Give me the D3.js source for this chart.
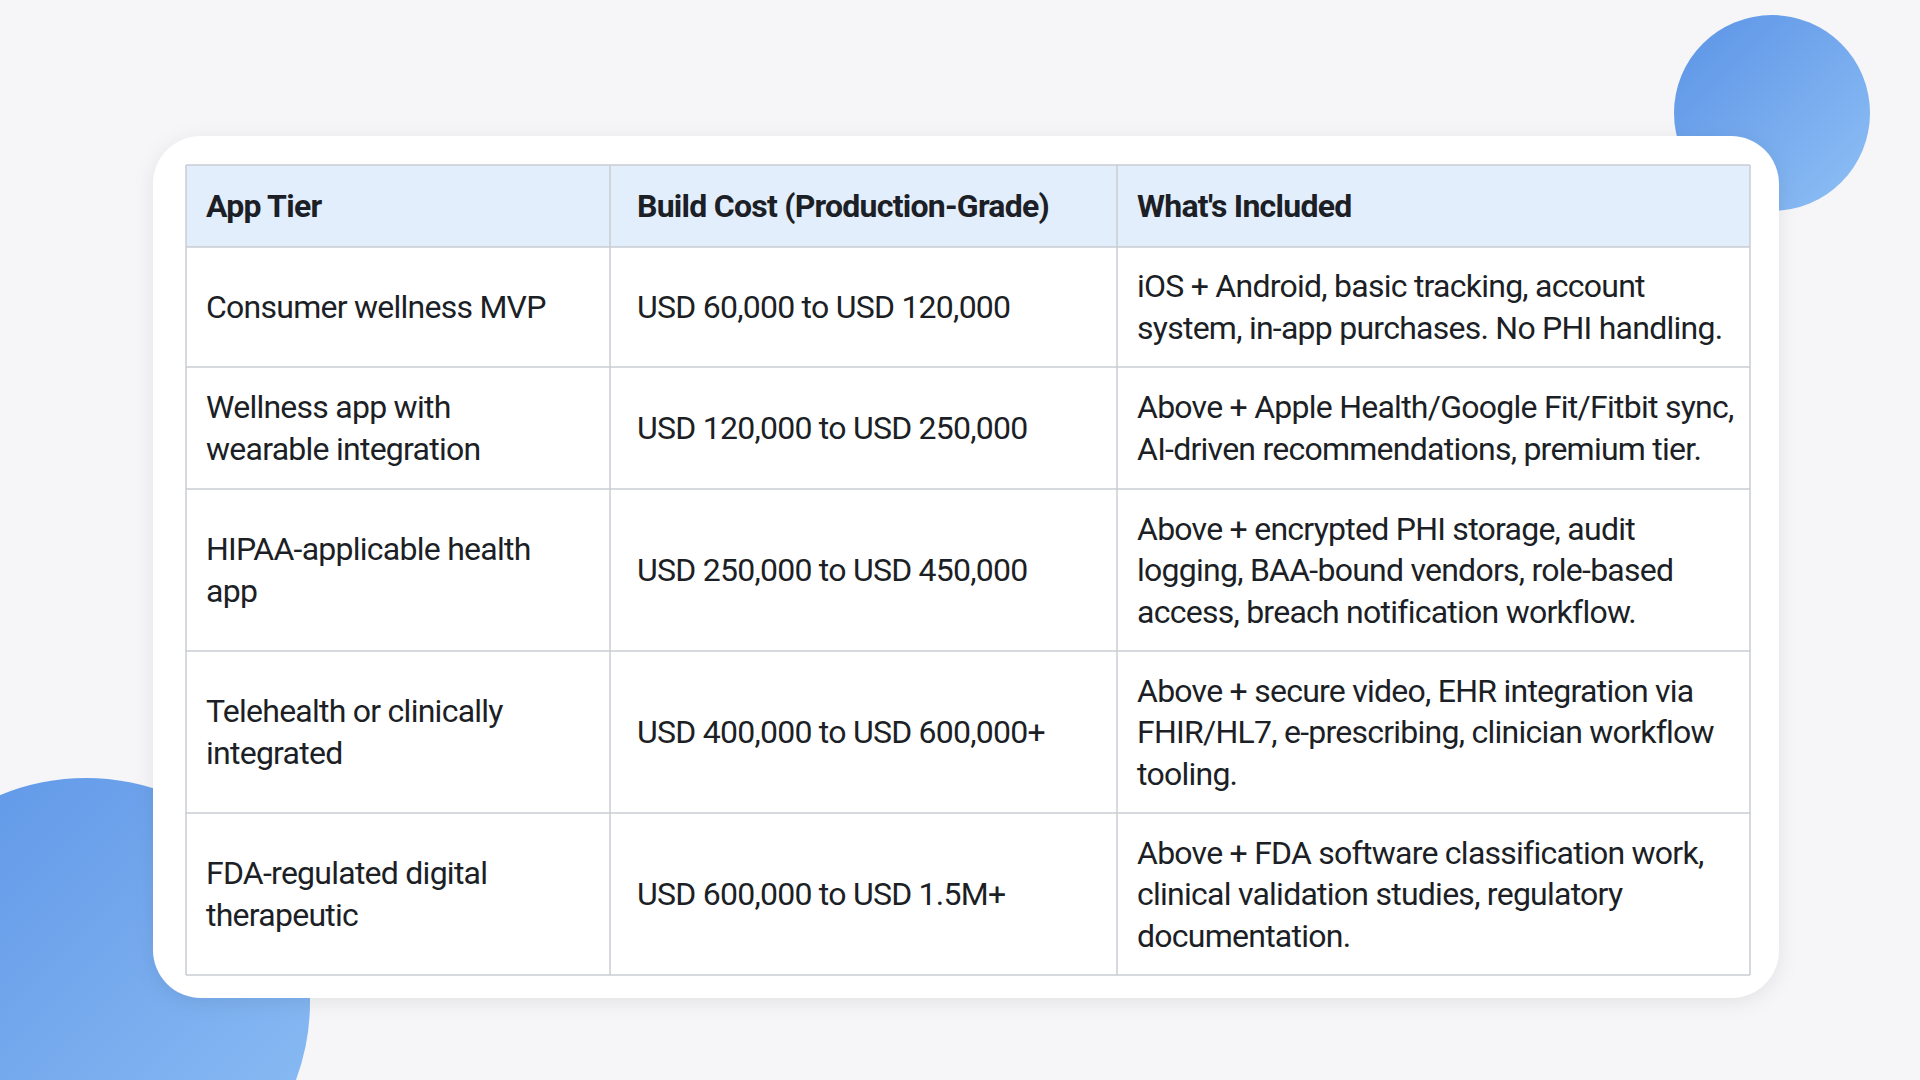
<!DOCTYPE html>
<html><head><meta charset="utf-8">
<script src="https://cdn.jsdelivr.net/npm/d3@7"></script>
<style>body{margin:0;background:#f6f5f7;overflow:hidden}</style>
</head><body>
<svg id="chart" width="1920" height="1080"></svg>
<script>
// Table content
var headers = ["App Tier", "Build Cost (Production-Grade)", "What's Included"];
var tiers = ["Consumer wellness MVP", "Wellness app with\nwearable integration", "HIPAA-applicable health\napp", "Telehealth or clinically\nintegrated", "FDA-regulated digital\ntherapeutic"];
var costs = ["USD 60,000 to USD 120,000", "USD 120,000 to USD 250,000", "USD 250,000 to USD 450,000", "USD 400,000 to USD 600,000+", "USD 600,000 to USD 1.5M+"];
var included = [
    "iOS + Android, basic tracking, account\nsystem, in-app purchases. No PHI handling.",
    "Above + Apple Health/Google Fit/Fitbit sync,\nAI-driven recommendations, premium tier.",
    "Above + encrypted PHI storage, audit\nlogging, BAA-bound vendors, role-based\naccess, breach notification workflow.",
    "Above + secure video, EHR integration via\nFHIR/HL7, e-prescribing, clinician workflow\ntooling.",
    "Above + FDA software classification work,\nclinical validation studies, regulatory\ndocumentation."
];

var svg = d3.select("#chart");
var defs = svg.append("defs");
var g1 = defs.append("linearGradient").attr("id", "blob").attr("x1", 0).attr("y1", 0).attr("x2", 1).attr("y2", 1);
g1.append("stop").attr("offset", "0%").attr("stop-color", "#5b93e6");
g1.append("stop").attr("offset", "100%").attr("stop-color", "#8fc0f5");
var f = defs.append("filter").attr("id", "shadow").attr("x", -0.1).attr("y", -0.1).attr("width", 1.2).attr("height", 1.2);
f.append("feDropShadow").attr("dx", 0).attr("dy", 4).attr("stdDeviation", 10).attr("flood-color", "#000").attr("flood-opacity", 0.08);

// background blobs
svg.append("circle").attr("cx", 1772).attr("cy", 113).attr("r", 98).attr("fill", "url(#blob)");
svg.append("circle").attr("cx", 86).attr("cy", 1002).attr("r", 224).attr("fill", "url(#blob)");

// card
svg.append("rect").attr("x", 153).attr("y", 136).attr("width", 1626).attr("height", 862)
    .attr("rx", 48).attr("fill", "#fff").attr("filter", "url(#shadow)");

var colEdges = [186, 610, 1117, 1750];
var rowEdges = [165, 247, 367, 489, 651, 813, 975];
var pad = [20, 27, 20];
var x = d3.scaleOrdinal().domain(d3.range(3)).range(colEdges.slice(0, 3));

var rows = [headers].concat(tiers.map(function(t, i) { return [t, costs[i], included[i]]; }));

// header fill
svg.append("rect").attr("x", colEdges[0]).attr("y", rowEdges[0])
    .attr("width", colEdges[3] - colEdges[0]).attr("height", rowEdges[1] - rowEdges[0]).attr("fill", "#e2eefc");

var grid = svg.append("g").attr("stroke", "#c9ccd2").attr("stroke-width", 1.5);
rowEdges.forEach(function(v) {
    grid.append("line").attr("x1", colEdges[0]).attr("x2", colEdges[3]).attr("y1", v).attr("y2", v);
});
colEdges.forEach(function(v) {
    grid.append("line").attr("x1", v).attr("x2", v).attr("y1", rowEdges[0]).attr("y2", rowEdges[6]);
});

var lineH = 41.5;
rows.forEach(function(row, r) {
    var mid = (rowEdges[r] + rowEdges[r + 1]) / 2;
    row.forEach(function(cell, c) {
        var lines = cell.split("\n");
        var t = svg.append("text")
            .attr("font-family", "Roboto, 'Noto Sans', sans-serif")
            .attr("font-size", 32)
            .attr("letter-spacing", -0.75)
            .attr("font-weight", r === 0 ? 700 : 400)
            .attr("fill", "#1c1f26");
        lines.forEach(function(l, i) {
            t.append("tspan").attr("x", x(c) + pad[c])
                .attr("y", mid + (i - (lines.length - 1) / 2) * lineH)
                .attr("dy", "0.35em").text(l);
        });
    });
});
</script>
</body></html>
